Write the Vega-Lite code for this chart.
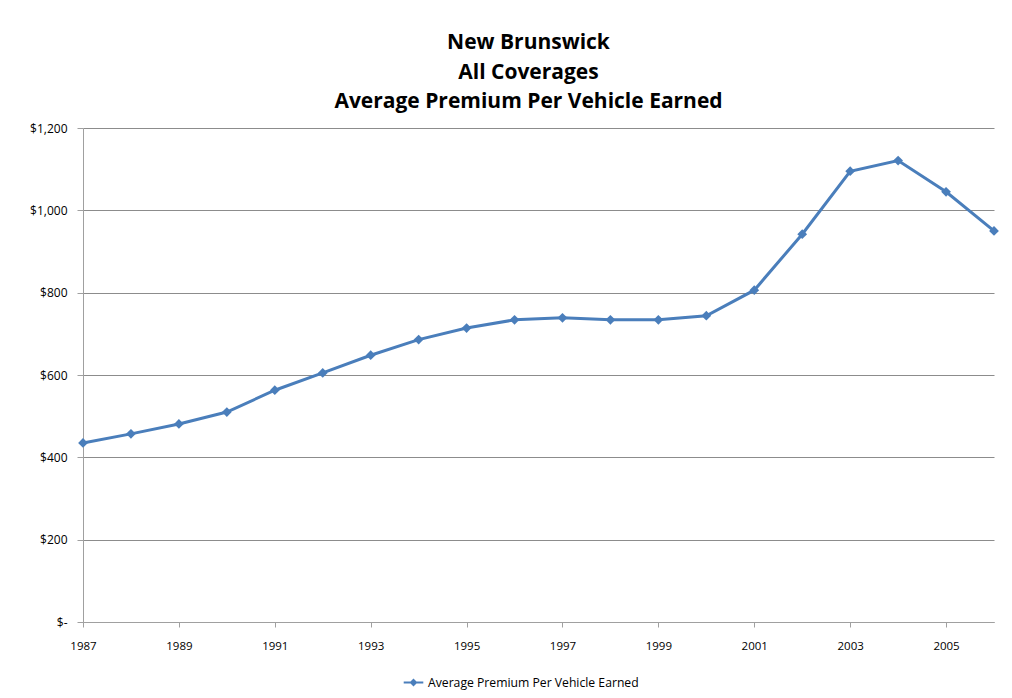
{
  "$schema": "https://vega.github.io/schema/vega-lite/v6.json",
  "autosize": "none",
  "width": 911,
  "height": 494,
  "padding": {"left": 83, "top": 128, "right": 18, "bottom": 76},
  "background": "white",
  "config": {"view": {"stroke": null}, "font": "Open Sans"},
  "title": {
    "text": ["New Brunswick", "All Coverages", "Average Premium Per Vehicle Earned"],
    "font": "Open Sans",
    "fontSize": 21,
    "fontWeight": "bold",
    "lineHeight": 29.5,
    "color": "#000000",
    "anchor": "middle",
    "dx": -10,
    "offset": 10
  },
  "data": {
    "values": [
      {"year": 1987, "premium": 435, "series": "Average Premium Per Vehicle Earned"},
      {"year": 1988, "premium": 457, "series": "Average Premium Per Vehicle Earned"},
      {"year": 1989, "premium": 481, "series": "Average Premium Per Vehicle Earned"},
      {"year": 1990, "premium": 510, "series": "Average Premium Per Vehicle Earned"},
      {"year": 1991, "premium": 563, "series": "Average Premium Per Vehicle Earned"},
      {"year": 1992, "premium": 605, "series": "Average Premium Per Vehicle Earned"},
      {"year": 1993, "premium": 648, "series": "Average Premium Per Vehicle Earned"},
      {"year": 1994, "premium": 686, "series": "Average Premium Per Vehicle Earned"},
      {"year": 1995, "premium": 714, "series": "Average Premium Per Vehicle Earned"},
      {"year": 1996, "premium": 734, "series": "Average Premium Per Vehicle Earned"},
      {"year": 1997, "premium": 739, "series": "Average Premium Per Vehicle Earned"},
      {"year": 1998, "premium": 734, "series": "Average Premium Per Vehicle Earned"},
      {"year": 1999, "premium": 734, "series": "Average Premium Per Vehicle Earned"},
      {"year": 2000, "premium": 744, "series": "Average Premium Per Vehicle Earned"},
      {"year": 2001, "premium": 806, "series": "Average Premium Per Vehicle Earned"},
      {"year": 2002, "premium": 942, "series": "Average Premium Per Vehicle Earned"},
      {"year": 2003, "premium": 1095, "series": "Average Premium Per Vehicle Earned"},
      {"year": 2004, "premium": 1121, "series": "Average Premium Per Vehicle Earned"},
      {"year": 2005, "premium": 1045, "series": "Average Premium Per Vehicle Earned"},
      {"year": 2006, "premium": 950, "series": "Average Premium Per Vehicle Earned"}
    ]
  },
  "encoding": {
    "x": {
      "field": "year",
      "type": "quantitative",
      "scale": {"domain": [1987, 2006], "nice": false, "zero": false},
      "axis": {
        "title": null,
        "values": [1987, 1989, 1991, 1993, 1995, 1997, 1999, 2001, 2003, 2005],
        "format": "d",
        "grid": false,
        "labelFlush": false,
        "labelBound": false,
        "domainColor": "#a0a0a0",
        "tickColor": "#a0a0a0",
        "tickSize": 5,
        "labelPadding": 13,
        "labelFontSize": 11.5,
        "labelColor": "#000000",
        "labelFont": "Open Sans"
      }
    },
    "y": {
      "field": "premium",
      "type": "quantitative",
      "scale": {"domain": [0, 1200], "nice": false},
      "axis": {
        "title": null,
        "values": [0, 200, 400, 600, 800, 1000, 1200],
        "labelExpr": "datum.value == 0 ? '$-' : format(datum.value, '$,.0f')",
        "grid": true,
        "gridColor": "#8c8c8c",
        "domainColor": "#a0a0a0",
        "tickColor": "#a0a0a0",
        "tickSize": 6,
        "labelPadding": 10,
        "labelFontSize": 12,
        "labelColor": "#000000",
        "labelFont": "Open Sans"
      }
    },
    "color": {
      "field": "series",
      "type": "nominal",
      "scale": {"range": ["#4a7ebb"]},
      "legend": {
        "title": null,
        "orient": "none",
        "legendX": 323,
        "legendY": 547,
        "symbolType": "M-1.6,0H1.6M0,-0.42L0.42,0L0,0.42L-0.42,0Z",
        "symbolSize": 150,
        "symbolStrokeWidth": 2,
        "symbolFillColor": "#4a7ebb",
        "labelOffset": 7,
        "labelFontSize": 12.2,
        "labelLimit": 400,
        "labelFont": "Open Sans",
        "labelColor": "#000000"
      }
    }
  },
  "layer": [
    {"mark": {"type": "line", "strokeWidth": 3}},
    {"mark": {"type": "point", "shape": "diamond", "filled": true, "size": 95, "opacity": 1}}
  ]
}
